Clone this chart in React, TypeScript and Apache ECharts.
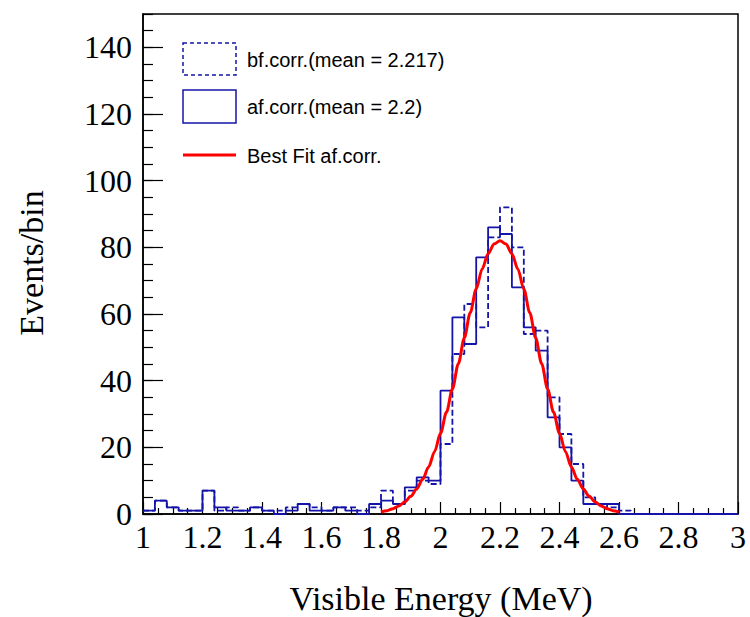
import React, { useEffect, useRef } from "react";
import * as echarts from "echarts";

// Histogram bin edges (MeV), 50 bins of 0.04 from 1 to 3
const binEdges = [
  1.0, 1.04, 1.08, 1.12, 1.16, 1.2, 1.24, 1.28, 1.32, 1.36, 1.4, 1.44, 1.48, 1.52, 1.56, 1.6, 1.64,
  1.68, 1.72, 1.76, 1.8, 1.84, 1.88, 1.92, 1.96, 2.0, 2.04, 2.08, 2.12, 2.16, 2.2, 2.24, 2.28, 2.32,
  2.36, 2.4, 2.44, 2.48, 2.52, 2.56, 2.6, 2.64, 2.68, 2.72, 2.76, 2.8, 2.84, 2.88, 2.92, 2.96, 3.0,
];

// bf.corr. (dashed) counts per bin
const bfCounts = [
  1, 4, 2, 1, 1, 7, 1, 2, 1, 2, 1, 1, 2, 3, 2, 1, 2, 2, 1, 2, 7, 3, 7, 10, 9, 21, 48, 63, 56, 83,
  92, 80, 54, 55, 35, 24, 15, 5, 3, 2, 1, 0, 0, 0, 0, 0, 0, 0, 0, 0,
];

// af.corr. (solid) counts per bin
const afCounts = [
  1, 4, 2, 1, 1, 7, 2, 1, 1, 2, 1, 0, 1, 3, 1, 1, 2, 1, 0, 3, 4, 3, 8, 11, 10, 37, 59, 51, 77, 86,
  84, 68, 56, 49, 29, 20, 10, 3, 3, 3, 0, 0, 0, 0, 0, 0, 0, 0, 0, 0,
];

// Best fit curve
const fitX = [
  1.8, 1.82, 1.84, 1.86, 1.88, 1.9, 1.92, 1.94, 1.96, 1.98, 2.0, 2.02, 2.04, 2.06, 2.08, 2.1, 2.12,
  2.14, 2.16, 2.18, 2.2, 2.22, 2.24, 2.26, 2.28, 2.3, 2.32, 2.34, 2.36, 2.38, 2.4, 2.42, 2.44, 2.46,
  2.48, 2.5, 2.52, 2.54, 2.56, 2.58, 2.6,
];
const fitY = [
  0.6, 1.0, 1.6, 2.4, 3.6, 5.3, 7.5, 10.4, 14.1, 18.7, 24.2, 30.5, 37.5, 45.1, 52.8, 60.4, 67.5,
  73.5, 78.1, 81.0, 82.0, 81.0, 78.1, 73.5, 67.5, 60.4, 52.8, 45.1, 37.5, 30.5, 24.2, 18.7, 14.1,
  10.4, 7.5, 5.3, 3.6, 2.4, 1.6, 1.0, 0.6,
];

const legendLabels = ["bf.corr.(mean = 2.217)", "af.corr.(mean = 2.2)", "Best Fit af.corr."];
const xTitle = "Visible Energy (MeV)";
const yTitle = "Events/bin";

const BLUE = "#1414a8";
const RED = "#ff0000";
const SERIF = "'Liberation Serif', 'DejaVu Serif', serif";
const SANS = "'Liberation Sans', Arial, sans-serif";

function stepData(counts: number[]) {
  return binEdges.map((e, i) => [e, i < counts.length ? counts[i] : counts[counts.length - 1]]);
}

export default function App() {
  const ref = useRef<HTMLDivElement>(null);
  useEffect(() => {
    if (!ref.current) return;
    const chart = echarts.init(ref.current, null, { renderer: "svg" });
    const option: any = {
      animation: false,
      backgroundColor: "#ffffff",
      grid: {
        left: 143,
        right: 12,
        top: 14,
        bottom: 103,
        show: true,
        borderColor: "#000",
        borderWidth: 1.5,
        backgroundColor: "transparent",
      },
      xAxis: {
        type: "value",
        min: 1,
        max: 3,
        interval: 0.2,
        axisLine: { show: true, lineStyle: { color: "#000", width: 1.5 } },
        axisTick: { show: true, inside: true, length: 12, lineStyle: { color: "#000", width: 1.2 } },
        minorTick: { show: true, splitNumber: 4, length: 6, lineStyle: { color: "#000", width: 1.2 } },
        splitLine: { show: false },
        axisLabel: { color: "#000", fontFamily: SERIF, fontSize: 32, margin: 7 },
      },
      yAxis: [
        {
          type: "value",
          min: 0,
          max: 150,
          interval: 20,
          axisLine: { show: true, lineStyle: { color: "#000", width: 1.5 } },
          axisTick: { show: true, inside: true, length: 20, lineStyle: { color: "#000", width: 1.2 } },
          splitLine: { show: false },
          axisLabel: {
            color: "#000",
            fontFamily: SERIF,
            fontSize: 32,
            margin: 11,
            showMaxLabel: false,
          },
        },
        {
          type: "value",
          min: 0,
          max: 150,
          interval: 5,
          position: "left",
          axisLine: { show: false },
          axisTick: { show: true, inside: true, length: 10, lineStyle: { color: "#000", width: 1.2 } },
          splitLine: { show: false },
          axisLabel: { show: false },
        },
      ],
      series: [
        {
          type: "line",
          name: legendLabels[0],
          data: stepData(bfCounts),
          step: "end",
          symbol: "none",
          yAxisIndex: 0,
          lineStyle: { color: BLUE, width: 1.8, type: [6, 3] },
          z: 3,
        },
        {
          type: "line",
          name: legendLabels[1],
          data: stepData(afCounts),
          step: "end",
          symbol: "none",
          yAxisIndex: 0,
          lineStyle: { color: BLUE, width: 1.8 },
          z: 4,
        },
        {
          type: "line",
          name: legendLabels[2],
          data: fitX.map((x, i) => [x, fitY[i]]),
          smooth: 0.3,
          smoothMonotone: "x",
          symbol: "none",
          yAxisIndex: 0,
          lineStyle: { color: RED, width: 3 },
          z: 5,
        },
      ],
      graphic: [
        {
          type: "rect",
          shape: { x: 183, y: 43, width: 53, height: 32 },
          style: { fill: "none", stroke: BLUE, lineWidth: 1.5, lineDash: [4, 3] },
        },
        {
          type: "text",
          x: 247,
          y: 60,
          style: { text: legendLabels[0], font: `20px ${SANS}`, fill: "#000", verticalAlign: "middle", align: "left" },
        },
        {
          type: "rect",
          shape: { x: 183, y: 90, width: 53, height: 33 },
          style: { fill: "none", stroke: BLUE, lineWidth: 1.5 },
        },
        {
          type: "text",
          x: 247,
          y: 107,
          style: { text: legendLabels[1], font: `20px ${SANS}`, fill: "#000", verticalAlign: "middle", align: "left" },
        },
        {
          type: "line",
          shape: { x1: 183, y1: 155, x2: 236, y2: 155 },
          style: { stroke: RED, lineWidth: 3 },
        },
        {
          type: "text",
          x: 247,
          y: 156,
          style: { text: legendLabels[2], font: `20px ${SANS}`, fill: "#000", verticalAlign: "middle", align: "left" },
        },
        {
          type: "text",
          x: 441,
          y: 598,
          style: { text: xTitle, font: `34px ${SERIF}`, fill: "#000", verticalAlign: "middle", align: "center" },
        },
        {
          type: "text",
          x: 31,
          y: 263,
          rotation: Math.PI / 2,
          style: { text: yTitle, font: `34px ${SERIF}`, fill: "#000", verticalAlign: "middle", align: "center" },
        },
      ],
    };
    chart.setOption(option);
    return () => chart.dispose();
  }, []);
  return <div ref={ref} style={{ width: 750, height: 617, position: "absolute", left: 0, top: 0 }} />;
}
